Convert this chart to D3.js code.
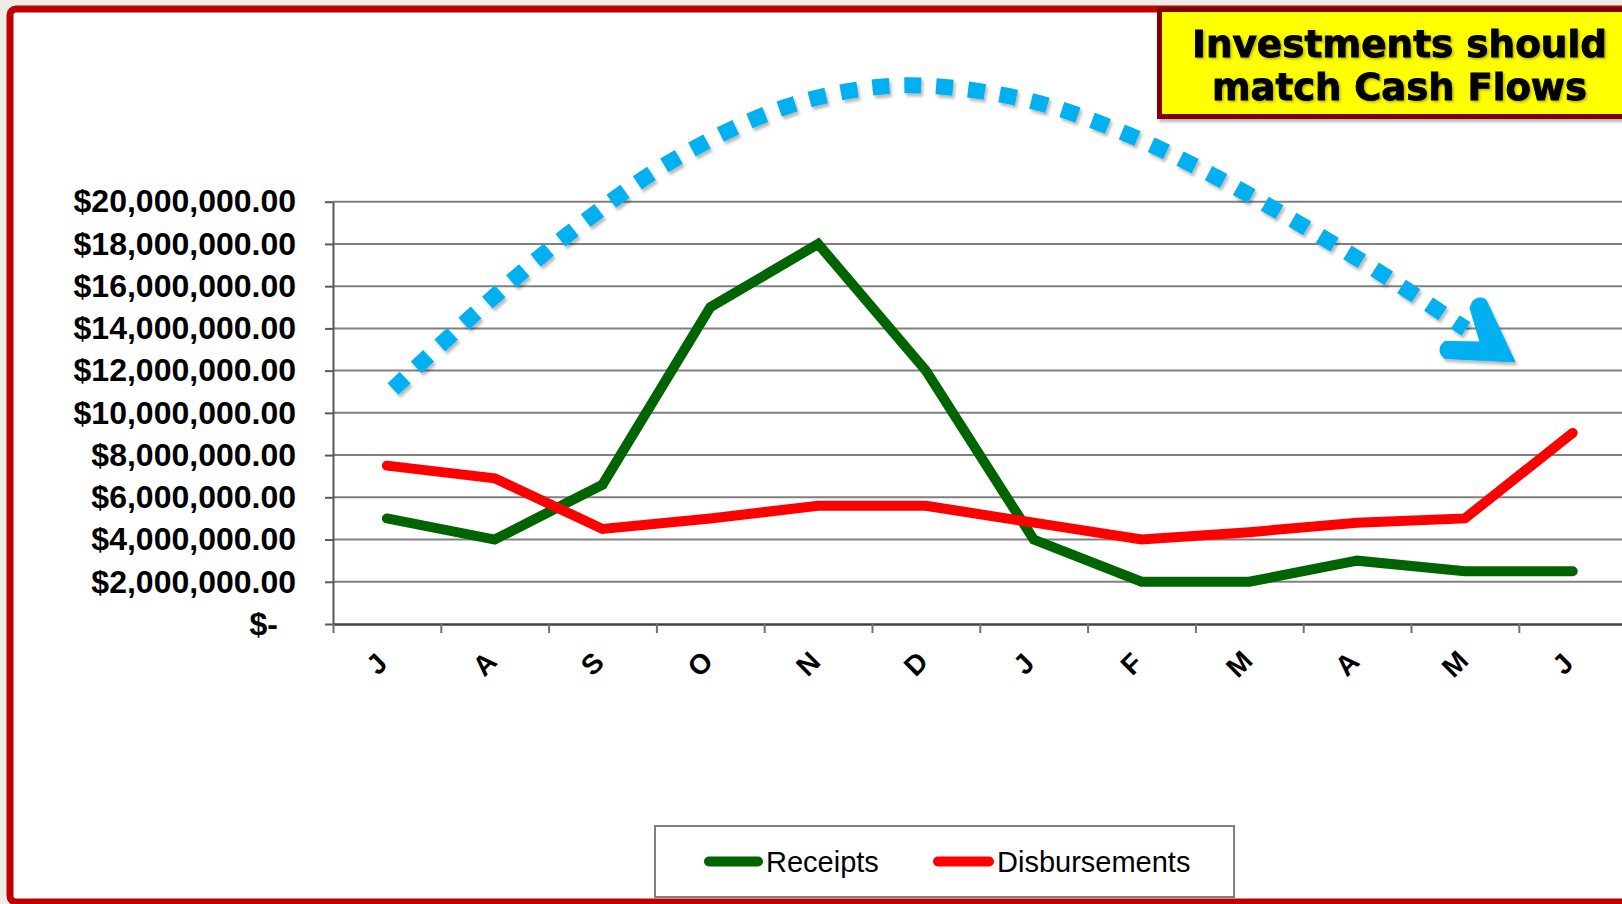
<!DOCTYPE html>
<html>
<head>
<meta charset="utf-8">
<script src="https://cdn.jsdelivr.net/npm/d3@7"></script>
<style>
  html, body { margin: 0; padding: 0; background: #efece6; }
  svg { display: block; }
</style>
</head>
<body>
<svg id="chart" width="1622" height="904"></svg>
<script>
// ---- data ----
const months = ["J", "A", "S", "O", "N", "D", "J", "F", "M", "A", "M", "J"];
const receipts = [5000000, 4000000, 6600000, 15000000, 18000000, 12000000,
                  4000000, 2000000, 2000000, 3000000, 2500000, 2500000];
const disbursements = [7500000, 6900000, 4500000, 5000000, 5600000, 5600000,
                       4800000, 4000000, 4350000, 4800000, 5000000, 9050000];
const yTicks = [0, 2000000, 4000000, 6000000, 8000000, 10000000,
                12000000, 14000000, 16000000, 18000000, 20000000];
const seriesNames = ["Receipts", "Disbursements"];
const titleLines = ["Investments should", "match Cash Flows"];
// sweeping callout arrow, as [month position, dollars]
const arrowTrack = [[0.557, 11.13e6], [1.271, 14.49e6], [2.161, 18.38e6], [3.126, 21.88e6],
                    [4.193, 24.48e6], [5.046, 25.43e6], [5.677, 25.43e6], [6.549, 24.67e6],
                    [7.384, 23.16e6], [8.191, 21.17e6], [8.970, 18.94e6], [9.731, 16.58e6],
                    [10.510, 13.97e6]];
const arrowTip = [10.965, 12.41e6];

// ---- layout ----
const W = 1622, H = 904;
const plot = { left: 333, top: 201.7, bottom: 624, band: 107.8 };
const colors = { receipts: "#006400", disbursements: "#ff0000", arrow: "#00b0f0",
                 grid: "#808080", axis: "#595959", frame: "#c00000" };
const numFont = "'Liberation Sans', Arial, Helvetica, sans-serif";

const svg = d3.select("#chart");
const defs = svg.append("defs");
const shadow = defs.append("filter").attr("id", "soft-shadow")
  .attr("x", "-10%").attr("y", "-10%").attr("width", "130%").attr("height", "130%");
shadow.append("feDropShadow").attr("dx", 2).attr("dy", 3).attr("stdDeviation", 1.6)
  .attr("flood-color", "#000").attr("flood-opacity", 0.28);
const textShadow = defs.append("filter").attr("id", "text-shadow")
  .attr("x", "-5%").attr("y", "-20%").attr("width", "110%").attr("height", "140%");
textShadow.append("feDropShadow").attr("dx", 1.5).attr("dy", 1.5).attr("stdDeviation", 1)
  .attr("flood-color", "#000").attr("flood-opacity", 0.3);

// slide frame
svg.append("rect")
  .attr("x", 10).attr("y", 9).attr("width", 1700).attr("height", 893).attr("rx", 6)
  .attr("fill", "#ffffff").attr("stroke", colors.frame).attr("stroke-width", 7);

// ---- scales ----
const x = d3.scaleBand().domain(d3.range(months.length))
  .range([plot.left, plot.left + plot.band * months.length]);
const xPos = d3.scaleLinear().domain([0, months.length]).range(x.range());
const y = d3.scaleLinear().domain([0, 20000000]).range([plot.bottom, plot.top]);
const cx = i => x(i) + x.bandwidth() / 2;

// ---- gridlines ----
svg.append("g").selectAll("line").data(yTicks.filter(v => v > 0)).join("line")
  .attr("x1", plot.left).attr("x2", W)
  .attr("y1", d => y(d)).attr("y2", d => y(d))
  .attr("stroke", colors.grid).attr("stroke-width", 2);

// ---- y axis ----
const money = d3.format(",.2f");
const fmtMoney = v => v === 0 ? "$-" : "$" + money(v);
const gy = svg.append("g").attr("transform", `translate(${plot.left},0)`)
  .call(d3.axisLeft(y).tickValues(yTicks).tickSize(8).tickSizeOuter(0)
        .tickPadding(29).tickFormat(fmtMoney));
gy.select(".domain").attr("stroke", colors.axis).attr("stroke-width", 2);
gy.selectAll(".tick line").attr("stroke", colors.axis).attr("stroke-width", 2);
gy.selectAll(".tick text")
  .attr("font-family", numFont).attr("font-weight", "bold").attr("font-size", 32)
  .attr("fill", "#000")
  .attr("dx", d => d === 0 ? -18 : 0);

// ---- x axis ----
const gx = svg.append("g").attr("transform", `translate(0,${plot.bottom})`)
  .call(d3.axisBottom(xPos).tickValues(d3.range(months.length + 1))
        .tickSize(9).tickSizeOuter(0).tickFormat(""));
gx.select(".domain").attr("stroke", "#404040").attr("stroke-width", 2.5);
gx.selectAll(".tick line").attr("stroke", "#707070").attr("stroke-width", 2);

svg.append("g").selectAll("text").data(months).join("text")
  .attr("transform", (d, i) => `translate(${cx(i) - 10},664) rotate(-45)`)
  .attr("text-anchor", "middle").attr("dominant-baseline", "central")
  .attr("font-family", numFont).attr("font-weight", "bold").attr("font-size", 28)
  .attr("fill", "#000")
  .text(d => d);

// ---- callout arrow ----
const track = d3.line().curve(d3.curveCatmullRom.alpha(0.5))
  .x(d => xPos(d[0])).y(d => y(d[1]));
const arrowG = svg.append("g").attr("filter", "url(#soft-shadow)");
arrowG.append("path")
  .attr("d", track(arrowTrack))
  .attr("fill", "none").attr("stroke", colors.arrow).attr("stroke-width", 16)
  .attr("stroke-dasharray", "17 15").attr("stroke-linecap", "butt");
const tx = xPos(arrowTip[0]), ty = y(arrowTip[1]);
const head = d3.path();
head.moveTo(tx, ty);
head.lineTo(tx - 29, ty - 62);
head.arcTo(tx - 40, ty - 68, tx - 45, ty - 54, 9);
head.lineTo(tx - 45, ty - 54);
head.lineTo(tx - 35, ty - 20);
head.lineTo(tx - 70, ty - 20.5);
head.arcTo(tx - 80, ty - 12, tx - 70, ty - 3.5, 9);
head.lineTo(tx - 70, ty - 3.5);
head.closePath();
arrowG.append("path").attr("d", head.toString()).attr("fill", colors.arrow)
  .attr("stroke", colors.arrow).attr("stroke-width", 1).attr("stroke-linejoin", "round");

// ---- series ----
const line = d3.line().x((d, i) => cx(i)).y(d => y(d));
svg.append("path").datum(receipts)
  .attr("d", line).attr("fill", "none").attr("stroke", colors.receipts)
  .attr("stroke-width", 10).attr("stroke-linecap", "round").attr("stroke-linejoin", "miter");
svg.append("path").datum(disbursements)
  .attr("d", line).attr("fill", "none").attr("stroke", colors.disbursements)
  .attr("stroke-width", 10).attr("stroke-linecap", "round").attr("stroke-linejoin", "miter");

// ---- title box ----
const titleG = svg.append("g");
titleG.append("rect")
  .attr("x", 1159.5).attr("y", 9.5).attr("width", 520).attr("height", 107)
  .attr("fill", "#ffff00").attr("stroke", "#800000").attr("stroke-width", 5)
  .attr("filter", "url(#soft-shadow)");
titleG.selectAll("text").data(titleLines).join("text")
  .attr("x", 1399.5).attr("y", (d, i) => 57 + i * 43)
  .attr("text-anchor", "middle")
  .attr("font-family", "'DejaVu Sans', Verdana, sans-serif").attr("font-weight", "bold")
  .attr("font-size", 38).attr("fill", "#000")
  .attr("stroke", "#000").attr("stroke-width", 0.9)
  .attr("filter", "url(#text-shadow)")
  .attr("textLength", (d, i) => i === 0 ? 415 : 375).attr("lengthAdjust", "spacingAndGlyphs")
  .text(d => d);

// ---- legend ----
const legend = svg.append("g");
legend.append("rect")
  .attr("x", 655).attr("y", 826).attr("width", 579).attr("height", 71)
  .attr("fill", "#fff").attr("stroke", "#7f7f7f").attr("stroke-width", 2);
const legendItems = [
  { name: seriesNames[0], color: colors.receipts, x1: 709, x2: 758, tx: 766 },
  { name: seriesNames[1], color: colors.disbursements, x1: 938, x2: 989, tx: 997 }
];
const li = legend.selectAll("g.item").data(legendItems).join("g").attr("class", "item");
li.append("line")
  .attr("x1", d => d.x1).attr("x2", d => d.x2).attr("y1", 861.5).attr("y2", 861.5)
  .attr("stroke", d => d.color).attr("stroke-width", 10).attr("stroke-linecap", "round");
li.append("text")
  .attr("x", d => d.tx).attr("y", 872)
  .attr("font-family", numFont).attr("font-size", 29).attr("fill", "#000")
  .text(d => d.name);
</script>
</body>
</html>
